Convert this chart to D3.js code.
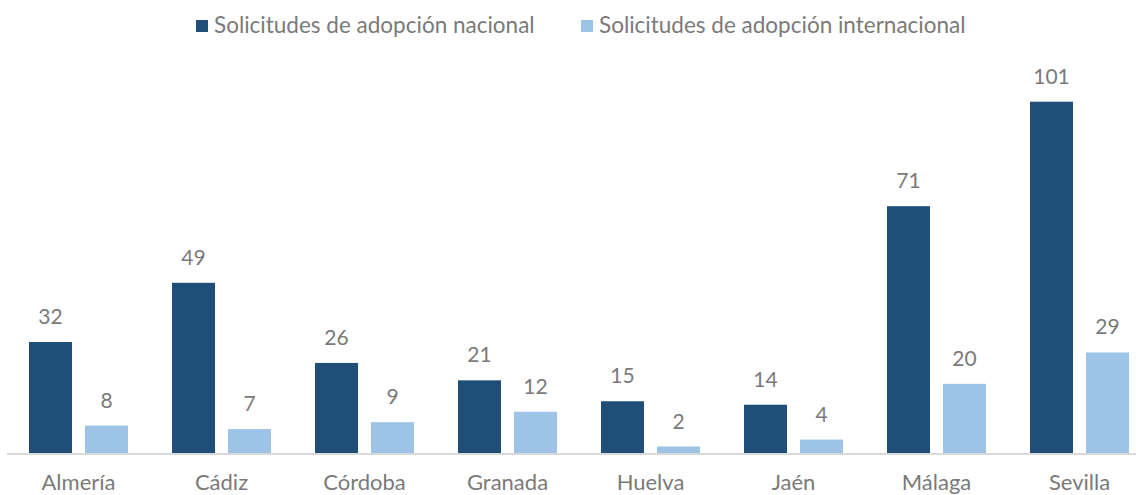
<!DOCTYPE html>
<html><head><meta charset="utf-8">
<script src="https://cdn.jsdelivr.net/npm/d3@7/dist/d3.min.js"></script>
<style>body{margin:0;background:#fff}svg{display:block}</style>
</head><body>
<svg id="c" width="1136" height="495"></svg>
<script>
const categories = ["Almería","Cádiz","Córdoba","Granada","Huelva","Jaén","Málaga","Sevilla"];
const seriesNames = ["Solicitudes de adopción nacional","Solicitudes de adopción internacional"];
const nacional = [32,49,26,21,15,14,71,101];
const internacional = [8,7,9,12,2,4,20,29];
const colors = ["#1F4E79","#9DC3E6"];

const svg = d3.select("#c");
const font = "Lato, 'Open Sans', sans-serif";
const textColor = "#7a7a7a";

const x0 = d3.scaleBand().domain(categories).range([7, 1151]).padding(0);
const x1 = d3.scaleBand().domain(seriesNames).range([22, 121]).paddingInner(0.232).paddingOuter(0);
const y = d3.scaleLinear().domain([0, 120]).range([453.5, 35.5]);

const data = categories.map((c,i)=>({cat:c, vals:[nacional[i], internacional[i]]}));

const g = svg.selectAll("g.grp").data(data).join("g").attr("class","grp")
  .attr("transform", d=>`translate(${x0(d.cat)},0)`);

g.selectAll("rect").data(d=>d.vals.map((v,k)=>({v,k})))
  .join("rect")
  .attr("x", d=>x1(seriesNames[d.k]))
  .attr("width", x1.bandwidth())
  .attr("y", d=>y(d.v))
  .attr("height", d=>y(0)-y(d.v))
  .attr("fill", d=>colors[d.k]);

g.selectAll("text.val").data(d=>d.vals.map((v,k)=>({v,k})))
  .join("text").attr("class","val")
  .attr("x", d=>x1(seriesNames[d.k]) + x1.bandwidth()/2)
  .attr("y", d=>y(d.v) - 18)
  .attr("text-anchor","middle")
  .attr("font-family", font).attr("font-size", 21)
  .attr("fill", textColor)
  .text(d=>d.v);

// axis
const axis = d3.axisBottom(x0).tickSize(0).tickPadding(0);
const ax = svg.append("g").attr("transform", `translate(0,${y(0)})`).call(axis);
ax.select(".domain").attr("stroke","#D9D9D9").attr("stroke-width",2).attr("d","M7,0.5H1136");
ax.selectAll(".tick text").attr("font-family", font).attr("font-size", 22).attr("fill", textColor)
  .attr("y", 36).attr("dy","0");

// legend
const legX = [196, 581];
const leg = svg.selectAll("g.leg").data(seriesNames).join("g").attr("class","leg")
  .attr("transform",(d,i)=>`translate(${legX[i]},20)`);
leg.append("rect").attr("width",12).attr("height",12).attr("fill",(d,i)=>colors[i]);
leg.append("text").attr("x",18).attr("y",13).attr("font-family",font).attr("font-size",22.5)
  .attr("fill",textColor).text(d=>d);
</script>
</body></html>
